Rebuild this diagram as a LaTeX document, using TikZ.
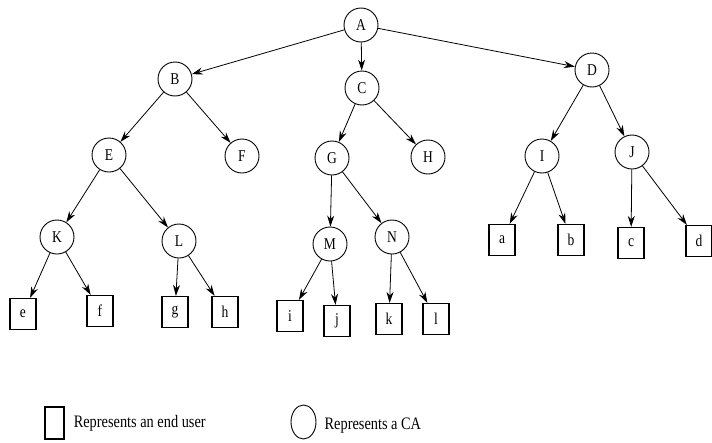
\documentclass[tikz,border=0pt]{standalone}
\usepackage{fontspec}
\setmainfont{Liberation Serif}
\newfontfamily\narrowserif[FakeStretch=0.82]{Liberation Serif}
\usepackage{tikz}
\usetikzlibrary{shapes.geometric, arrows.meta, positioning}
\tikzset{
  ca/.style     = {circle, draw, line width=0.9pt, minimum size=34pt, inner sep=0pt,
                   font=\narrowserif\fontsize{16.5}{18}\selectfont},
  user/.style   = {rectangle, draw, line width=1.2pt, minimum width=26pt,
                   minimum height=31pt, inner sep=0pt, font=\narrowserif\fontsize{16.5}{18}\selectfont},
  arrow/.style  = {line width=0.8pt, -{Stealth[length=11pt, width=7pt]}},
  legend/.style = {anchor=west, inner sep=0pt, font=\narrowserif\fontsize{17.5}{19}\selectfont},
}

\begin{document}
\begin{tikzpicture}[x=1pt, y=-1pt]

    \useasboundingbox (0,0) rectangle (712,442);

    %% CA hierarchy
    \node[ca] (A) at (361, 25)  {A};
    \node[ca] (B) at (175, 79)  {B};
    \node[ca] (C) at (362, 88)  {C};
    \node[ca] (D) at (592, 70)  {D};
    \node[ca] (E) at (109, 155) {E};
    \node[ca] (F) at (242, 156) {F};
    \node[ca] (G) at (332, 158) {G};
    \node[ca] (H) at (428, 157) {H};
    \node[ca] (I) at (542, 156) {I};
    \node[ca] (J) at (632, 152) {J};
    \node[ca] (K) at (57, 237)  {K};
    \node[ca] (L) at (179, 241) {L};
    \node[ca] (M) at (330, 244) {M};
    \node[ca] (N) at (392, 237) {N};

    %% End users
    \node[user] (e) at (23, 314)  {e};
    \node[user] (f) at (100, 311) {f};
    \node[user] (g) at (175, 312) {g};
    \node[user] (h) at (225, 312) {h};
    \node[user] (i) at (290, 316) {i};
    \node[user] (j) at (337, 321) {j};
    \node[user] (k) at (389, 319) {k};
    \node[user] (l) at (436, 319) {l};
    \node[user] (a) at (502, 240) {a};
    \node[user] (b) at (571, 240) {b};
    \node[user] (c) at (631, 243) {c};
    \node[user] (d) at (699, 241) {d};

    %% Certification edges
    \draw[arrow] (A) -- (B);
    \draw[arrow] (A) -- (C);
    \draw[arrow] (A) -- (D);
    \draw[arrow] (B) -- (E);
    \draw[arrow] (B) -- (F);
    \draw[arrow] (C) -- (G);
    \draw[arrow] (C) -- (H);
    \draw[arrow] (D) -- (I);
    \draw[arrow] (D) -- (J);
    \draw[arrow] (E) -- (K);
    \draw[arrow] (E) -- (L);
    \draw[arrow] (G) -- (M);
    \draw[arrow] (G) -- (N);
    \draw[arrow] (I) -- (a);
    \draw[arrow] (I) -- (b);
    \draw[arrow] (J) -- (c);
    \draw[arrow] (J) -- (d);
    \draw[arrow] (K) -- (e);
    \draw[arrow] (K) -- (f);
    \draw[arrow] (L) -- (g);
    \draw[arrow] (L) -- (h);
    \draw[arrow] (M) -- (i);
    \draw[arrow] (M) -- (j);
    \draw[arrow] (N) -- (k);
    \draw[arrow] (N) -- (l);

    %% Legend
    \node[user, minimum width=19pt, minimum height=32pt] (keyuser) at (54.5, 423) {};
    \node[legend, right=9pt of keyuser] (keyusertxt) {Represents an end user};
    \node[ellipse, draw, line width=0.9pt, minimum width=25pt, minimum height=34pt,
          inner sep=0pt] (keyca) at (303.5, 422) {};
    \node[legend, right=8pt of keyca, yshift=-4pt] (keycatxt) {Represents a CA};

  \end{tikzpicture}
\end{document}
